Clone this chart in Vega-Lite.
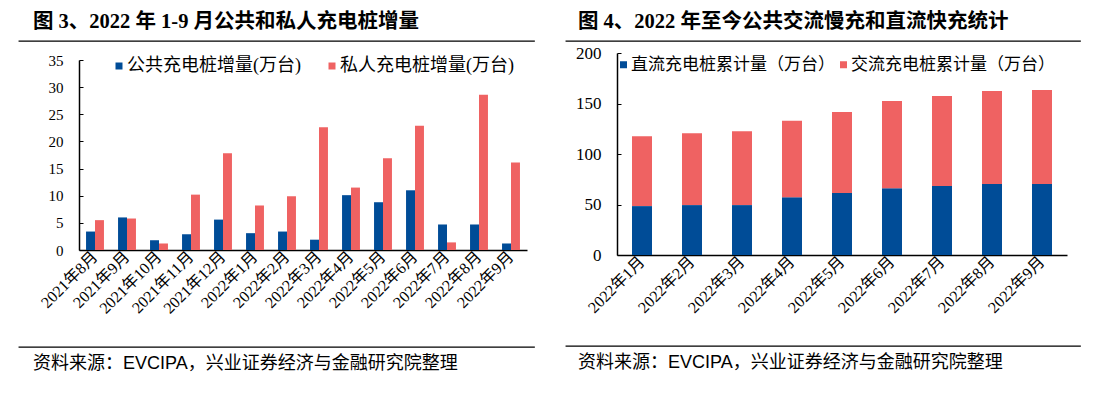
{
  "$schema": "https://vega.github.io/schema/vega-lite/v6.json",
  "background": "white",
  "padding": {"left": 18, "top": 10, "right": 5, "bottom": 5},
  "config": {"view": {"stroke": null}},
  "resolve": {"scale": {"color": "independent"}, "legend": {"color": "independent"}},
  "datasets": {
    "left": [
      {"m": "2021年8月", "s": "公共充电桩增量(万台)", "v": 3.4},
      {"m": "2021年8月", "s": "私人充电桩增量(万台)", "v": 5.5},
      {"m": "2021年9月", "s": "公共充电桩增量(万台)", "v": 6.0},
      {"m": "2021年9月", "s": "私人充电桩增量(万台)", "v": 5.8},
      {"m": "2021年10月", "s": "公共充电桩增量(万台)", "v": 1.8},
      {"m": "2021年10月", "s": "私人充电桩增量(万台)", "v": 1.2},
      {"m": "2021年11月", "s": "公共充电桩增量(万台)", "v": 2.9},
      {"m": "2021年11月", "s": "私人充电桩增量(万台)", "v": 10.2},
      {"m": "2021年12月", "s": "公共充电桩增量(万台)", "v": 5.6},
      {"m": "2021年12月", "s": "私人充电桩增量(万台)", "v": 17.8},
      {"m": "2022年1月", "s": "公共充电桩增量(万台)", "v": 3.1},
      {"m": "2022年1月", "s": "私人充电桩增量(万台)", "v": 8.2},
      {"m": "2022年2月", "s": "公共充电桩增量(万台)", "v": 3.4},
      {"m": "2022年2月", "s": "私人充电桩增量(万台)", "v": 9.9},
      {"m": "2022年3月", "s": "公共充电桩增量(万台)", "v": 1.9},
      {"m": "2022年3月", "s": "私人充电桩增量(万台)", "v": 22.6},
      {"m": "2022年4月", "s": "公共充电桩增量(万台)", "v": 10.1},
      {"m": "2022年4月", "s": "私人充电桩增量(万台)", "v": 11.5},
      {"m": "2022年5月", "s": "公共充电桩增量(万台)", "v": 8.8},
      {"m": "2022年5月", "s": "私人充电桩增量(万台)", "v": 16.9},
      {"m": "2022年6月", "s": "公共充电桩增量(万台)", "v": 11.0},
      {"m": "2022年6月", "s": "私人充电桩增量(万台)", "v": 22.9},
      {"m": "2022年7月", "s": "公共充电桩增量(万台)", "v": 4.7},
      {"m": "2022年7月", "s": "私人充电桩增量(万台)", "v": 1.4},
      {"m": "2022年8月", "s": "公共充电桩增量(万台)", "v": 4.7},
      {"m": "2022年8月", "s": "私人充电桩增量(万台)", "v": 28.6},
      {"m": "2022年9月", "s": "公共充电桩增量(万台)", "v": 1.2},
      {"m": "2022年9月", "s": "私人充电桩增量(万台)", "v": 16.1}
    ],
    "right": [
      {"m": "2022年1月", "s": "直流充电桩累计量（万台）", "v": 48.4},
      {"m": "2022年1月", "s": "交流充电桩累计量（万台）", "v": 69.2},
      {"m": "2022年2月", "s": "直流充电桩累计量（万台）", "v": 49.4},
      {"m": "2022年2月", "s": "交流充电桩累计量（万台）", "v": 71.2},
      {"m": "2022年3月", "s": "直流充电桩累计量（万台）", "v": 49.4},
      {"m": "2022年3月", "s": "交流充电桩累计量（万台）", "v": 73.2},
      {"m": "2022年4月", "s": "直流充电桩累计量（万台）", "v": 57.3},
      {"m": "2022年4月", "s": "交流充电桩累计量（万台）", "v": 75.5},
      {"m": "2022年5月", "s": "直流充电桩累计量（万台）", "v": 61.3},
      {"m": "2022年5月", "s": "交流充电桩累计量（万台）", "v": 80.4},
      {"m": "2022年6月", "s": "直流充电桩累计量（万台）", "v": 66.2},
      {"m": "2022年6月", "s": "交流充电桩累计量（万台）", "v": 86.3},
      {"m": "2022年7月", "s": "直流充电桩累计量（万台）", "v": 68.2},
      {"m": "2022年7月", "s": "交流充电桩累计量（万台）", "v": 89.3},
      {"m": "2022年8月", "s": "直流充电桩累计量（万台）", "v": 70.2},
      {"m": "2022年8月", "s": "交流充电桩累计量（万台）", "v": 92.2},
      {"m": "2022年9月", "s": "直流充电桩累计量（万台）", "v": 70.2},
      {"m": "2022年9月", "s": "交流充电桩累计量（万台）", "v": 93.2}
    ]
  },
  "spacing": 30,
  "hconcat": [
    {
      "spacing": 29,
      "resolve": {"scale": {"color": "independent"}, "legend": {"color": "independent"}},
      "vconcat": [
        {
          "spacing": 11,
          "resolve": {"scale": {"color": "independent"}, "legend": {"color": "independent"}},
          "vconcat": [
            {
              "width": 515, "height": 0.01,
              "view": {"stroke": "#000", "strokeWidth": 1.3},
              "title": {"text": "图 3、2022 年 1-9 月公共和私人充电桩增量", "anchor": "start", "dx": 14, "offset": -7, "baseline": "alphabetic", "font": "Liberation Serif, Noto Sans CJK SC", "fontSize": 20.5, "fontWeight": "bold", "color": "#000"},
              "data": {"values": []},
              "mark": "point"
            },
            {
              "spacing": 0,
              "resolve": {"scale": {"color": "independent"}, "legend": {"color": "independent"}},
              "hconcat": [
                {"width": 0.01, "height": 0.01, "data": {"values": []}, "mark": "point"},
                {
                  "width": 448, "height": 190,
                  "data": {"name": "left"},
                  "mark": {"type": "bar"},
                  "encoding": {
                    "x": {"field": "m", "type": "nominal", "sort": null, "scale": {"paddingInner": 0.44, "paddingOuter": 0.22},
                      "axis": {"title": null, "labelAngle": -45, "labelAlign": "right", "labelBaseline": "middle", "labelFont": "Liberation Serif, Noto Sans CJK SC", "labelFontSize": 16, "labelColor": "#000", "ticks": false, "domainColor": "#000", "domainWidth": 1.5, "labelPadding": 4}},
                    "xOffset": {"field": "s", "type": "nominal", "sort": ["公共充电桩增量(万台)", "私人充电桩增量(万台)"], "scale": {"paddingInner": 0}},
                    "y": {"field": "v", "type": "quantitative", "scale": {"domain": [0, 35]},
                      "axis": {"title": null, "values": [0, 5, 10, 15, 20, 25, 30, 35], "grid": false, "domainColor": "#000", "domainWidth": 1.5, "tickColor": "#000", "tickSize": -4, "labelPadding": 20, "labelFont": "Liberation Serif", "labelFontSize": 15, "labelColor": "#000", "minExtent": 59, "maxExtent": 59}},
                    "color": {"field": "s", "type": "nominal", "sort": ["公共充电桩增量(万台)", "私人充电桩增量(万台)"],
                      "scale": {"domain": ["公共充电桩增量(万台)", "私人充电桩增量(万台)"], "range": ["#004C97", "#EF6262"]},
                      "legend": {"title": null, "orient": "none", "legendX": 31, "legendY": -3, "direction": "horizontal", "symbolType": "square", "symbolSize": 49, "symbolStrokeWidth": 0, "labelFont": "Liberation Serif, Noto Sans CJK SC", "labelFontSize": 18, "labelColor": "#000", "labelLimit": 0, "columnPadding": 22, "labelOffset": -1, "padding": 0}}
                  }
                }
              ]
            }
          ]
        },
        {
          "width": 515, "height": 0.01,
          "view": {"stroke": "#000", "strokeWidth": 1.3},
          "title": {"text": "资料来源：EVCIPA，兴业证券经济与金融研究院整理", "orient": "bottom", "anchor": "start", "dx": 14, "offset": 22, "baseline": "alphabetic", "font": "Liberation Sans, Noto Sans CJK SC", "fontSize": 18, "fontWeight": "normal", "color": "#000"},
          "data": {"values": []},
          "mark": "point"
        }
      ]
    },
    {
      "spacing": 29,
      "resolve": {"scale": {"color": "independent"}, "legend": {"color": "independent"}},
      "vconcat": [
        {
          "spacing": 2,
          "resolve": {"scale": {"color": "independent"}, "legend": {"color": "independent"}},
          "vconcat": [
            {
              "width": 514, "height": 0.01,
              "view": {"stroke": "#000", "strokeWidth": 1.3},
              "title": {"text": "图 4、2022 年至今公共交流慢充和直流快充统计", "anchor": "start", "dx": 12, "offset": -7, "baseline": "alphabetic", "font": "Liberation Serif, Noto Sans CJK SC", "fontSize": 20.5, "fontWeight": "bold", "color": "#000"},
              "data": {"values": []},
              "mark": "point"
            },
            {
              "spacing": 0,
              "resolve": {"scale": {"color": "independent"}, "legend": {"color": "independent"}},
              "hconcat": [
                {"width": 0.01, "height": 0.01, "data": {"values": []}, "mark": "point"},
                {
                  "width": 450, "height": 202,
                  "data": {"name": "right"},
                  "mark": {"type": "bar"},
                  "encoding": {
                    "x": {"field": "m", "type": "nominal", "sort": null, "scale": {"paddingInner": 0.6, "paddingOuter": 0.3},
                      "axis": {"title": null, "labelAngle": -45, "labelAlign": "right", "labelBaseline": "middle", "labelFont": "Liberation Serif, Noto Sans CJK SC", "labelFontSize": 16, "labelColor": "#000", "ticks": false, "domainColor": "#000", "domainWidth": 1.5, "labelPadding": 4}},
                    "y": {"field": "v", "type": "quantitative", "stack": "zero", "scale": {"domain": [0, 200]},
                      "axis": {"title": null, "values": [0, 50, 100, 150, 200], "grid": false, "domainColor": "#000", "domainWidth": 1.5, "tickColor": "#000", "tickSize": -4, "labelPadding": 20, "labelFont": "Liberation Serif", "labelFontSize": 17, "labelColor": "#000", "minExtent": 50, "maxExtent": 50}},
                    "order": {"field": "s", "type": "nominal", "sort": "descending"},
                    "color": {"field": "s", "type": "nominal", "sort": ["直流充电桩累计量（万台）", "交流充电桩累计量（万台）"],
                      "scale": {"domain": ["直流充电桩累计量（万台）", "交流充电桩累计量（万台）"], "range": ["#004C97", "#EF6262"]},
                      "legend": {"title": null, "orient": "none", "legendX": -2, "legendY": 3, "direction": "horizontal", "symbolType": "square", "symbolSize": 49, "symbolStrokeWidth": 0, "labelFont": "Liberation Serif, Noto Sans CJK SC", "labelFontSize": 17, "labelColor": "#000", "labelLimit": 0, "columnPadding": -1, "labelOffset": -1, "padding": 0}}
                  }
                }
              ]
            }
          ]
        },
        {
          "width": 514, "height": 0.01,
          "view": {"stroke": "#000", "strokeWidth": 1.3},
          "title": {"text": "资料来源：EVCIPA，兴业证券经济与金融研究院整理", "orient": "bottom", "anchor": "start", "dx": 12, "offset": 22, "baseline": "alphabetic", "font": "Liberation Sans, Noto Sans CJK SC", "fontSize": 18, "fontWeight": "normal", "color": "#000"},
          "data": {"values": []},
          "mark": "point"
        }
      ]
    }
  ]
}
